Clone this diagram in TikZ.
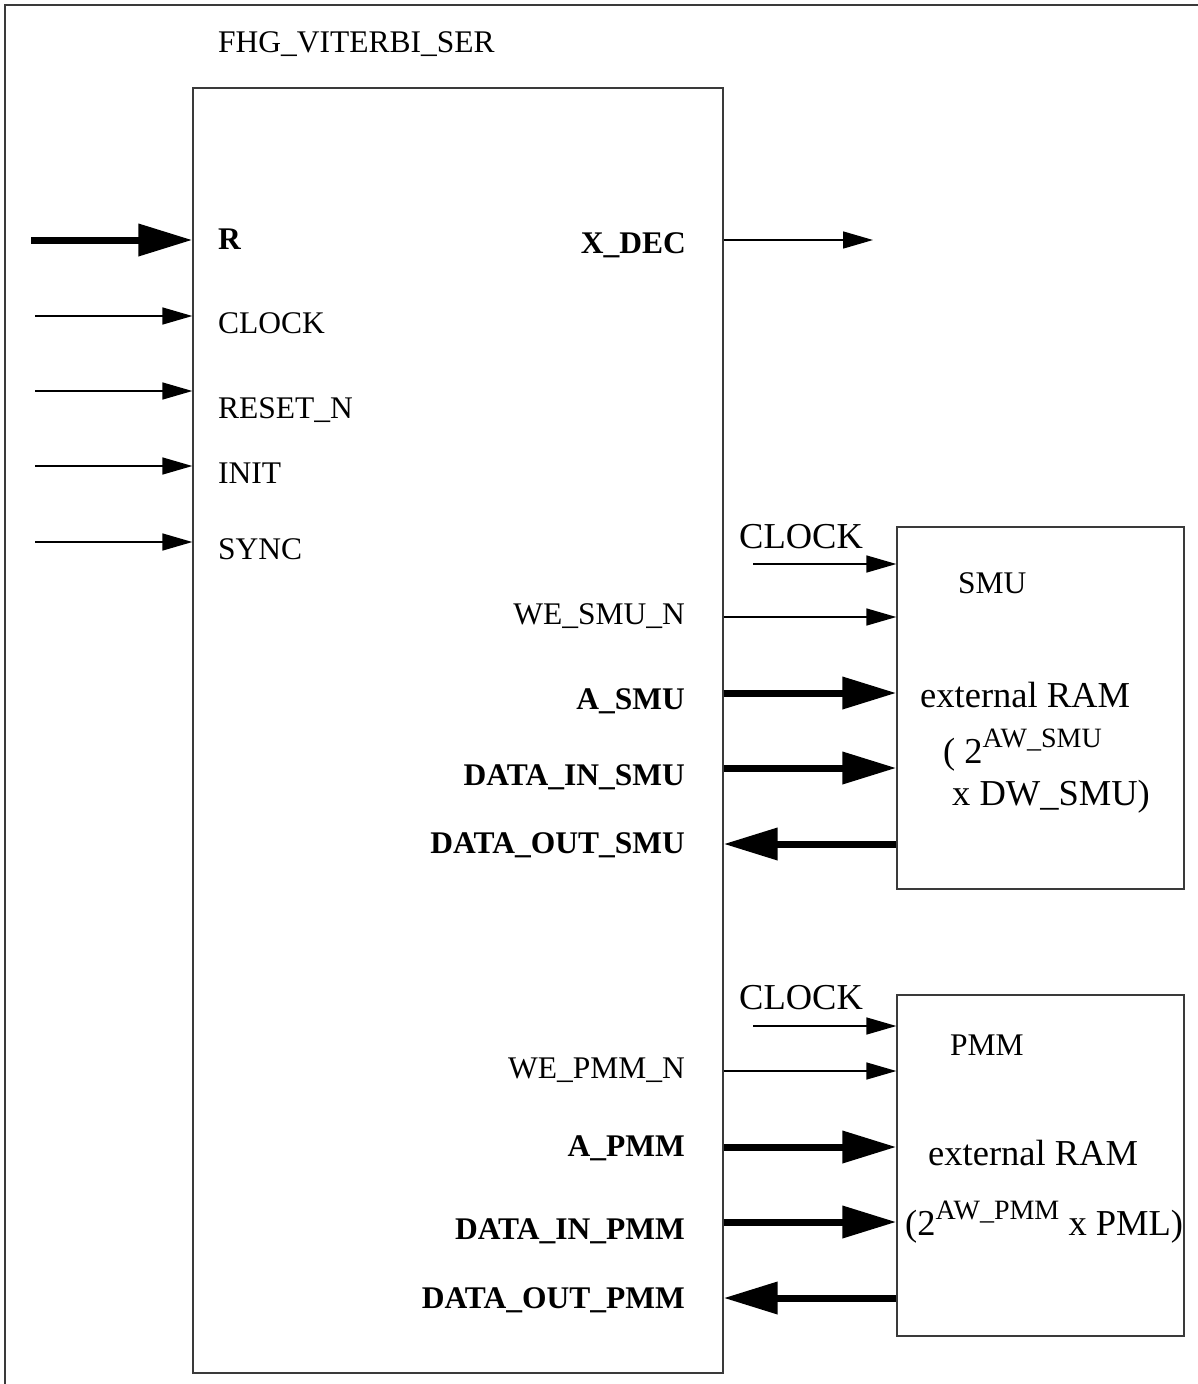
\documentclass[tikz,border=0pt]{standalone}
\usepackage{fontspec}
\setmainfont{Liberation Serif}
\usepackage{xcolor}
\usetikzlibrary{positioning,arrows.meta}
\definecolor{frameGray}{HTML}{3A3A3A}
\tikzset{
  blk/.style={draw=frameGray, line width=1.3pt, inner sep=0pt},
  thinarr/.style={line width=1.5pt, -{Triangle[length=30pt,width=17pt]}},
  busin/.style={line width=7pt, -{Triangle[length=54pt,width=31pt]}},
  busout/.style={line width=7pt, {Triangle[length=54pt,width=31pt]}-},
  pinlbl/.style={inner sep=0pt, font=\fontsize{31.5}{33}\selectfont},
  pinbold/.style={inner sep=0pt, font=\fontsize{31.5}{33}\selectfont\bfseries},
  ramlbl/.style={inner sep=0pt, font=\fontsize{36.5}{40}\selectfont}
}
\newcommand{\supx}[1]{\raisebox{0.42em}{\fontsize{28}{30}\selectfont #1}}
% #1 y, #2 name, #3 block, #4 arrow, #5 label style, #6 label baseline, #7 label
\newcommand{\rampin}[7]{%
  \coordinate (#2) at (0,#1);
  \draw[#4] (main.east |- #2) -- (#3.west |- #2);
  \node[#5, anchor=base east] (#2-lbl) at (685,#6) {#7};}

\begin{document}
\begin{tikzpicture}[x=1pt, y=-1pt]
\useasboundingbox (0,0) rectangle (1197,1384);
\draw[draw=frameGray, line width=1.3pt] (5,1400) -- (5,5) -- (1210,5);

% blocks
\node[blk, minimum width=530pt, minimum height=1285pt] (main) at (458,730.5) {};
\node[blk, minimum width=287pt, minimum height=362pt] (smu) at (1040.5,708) {};
\node[blk, minimum width=287pt, minimum height=341pt] (pmm) at (1040.5,1165.5) {};
\node[pinlbl, anchor=base west] (title) at (218,52) {FHG\_VITERBI\_SER};

% inputs
\coordinate (r-in) at (31,240);
\draw[busin] (r-in) -- (r-in -| main.west);
\node[pinbold, anchor=base west] (r-lbl) at (218,249) {R};
\foreach \y/\b/\nm/\txt in {316/333/clk/CLOCK, 391/418/rst/RESET\_N, 466/483/init/INIT, 542/559/sync/SYNC}{
  \coordinate (\nm-in) at (35,\y);
  \draw[thinarr] (\nm-in) -- (\nm-in -| main.west);
  \node[pinlbl, anchor=base west] (\nm-lbl) at (218,\b) {\txt};
}

% output
\coordinate (xdec-out) at (873,240);
\draw[thinarr] (xdec-out -| main.east) -- (xdec-out);
\node[pinbold, anchor=base east] (xdec-lbl) at (686,253) {X\_DEC};

% SMU
\coordinate (smu-clk) at (753,564);
\draw[thinarr] (smu-clk) -- (smu-clk -| smu.west);
\node[ramlbl, anchor=base west] (smu-clk-lbl) at (739,548) {CLOCK};
\rampin{617}{we-smu}{smu}{thinarr}{pinlbl}{624}{WE\_SMU\_N}
\rampin{693}{a-smu}{smu}{busin}{pinbold}{709}{A\_SMU}
\rampin{768}{din-smu}{smu}{busin}{pinbold}{785}{DATA\_IN\_SMU}
\rampin{844}{dout-smu}{smu}{busout}{pinbold}{853}{DATA\_OUT\_SMU}
\node[pinlbl, anchor=base west] (smu-name) at (958,593) {SMU};
\node[ramlbl, anchor=base west] (smu-ram) at (920,707) {external RAM};
\node[ramlbl, anchor=base west] (smu-size) at (943,763) {( 2\supx{AW\_SMU}};
\node[ramlbl, anchor=base west] (smu-dw) at (952,805) {x DW\_SMU)};

% PMM
\coordinate (pmm-clk) at (753,1026);
\draw[thinarr] (pmm-clk) -- (pmm-clk -| pmm.west);
\node[ramlbl, anchor=base west] (pmm-clk-lbl) at (739,1009) {CLOCK};
\rampin{1071}{we-pmm}{pmm}{thinarr}{pinlbl}{1078}{WE\_PMM\_N}
\rampin{1147}{a-pmm}{pmm}{busin}{pinbold}{1156}{A\_PMM}
\rampin{1222}{din-pmm}{pmm}{busin}{pinbold}{1239}{DATA\_IN\_PMM}
\rampin{1298}{dout-pmm}{pmm}{busout}{pinbold}{1308}{DATA\_OUT\_PMM}
\node[pinlbl, anchor=base west] (pmm-name) at (950,1055) {PMM};
\node[ramlbl, anchor=base west] (pmm-ram) at (928,1165) {external RAM};
\node[ramlbl, anchor=base west] (pmm-size) at (905,1235) {(2\supx{AW\_PMM} x PML)};
\end{tikzpicture}
\end{document}
